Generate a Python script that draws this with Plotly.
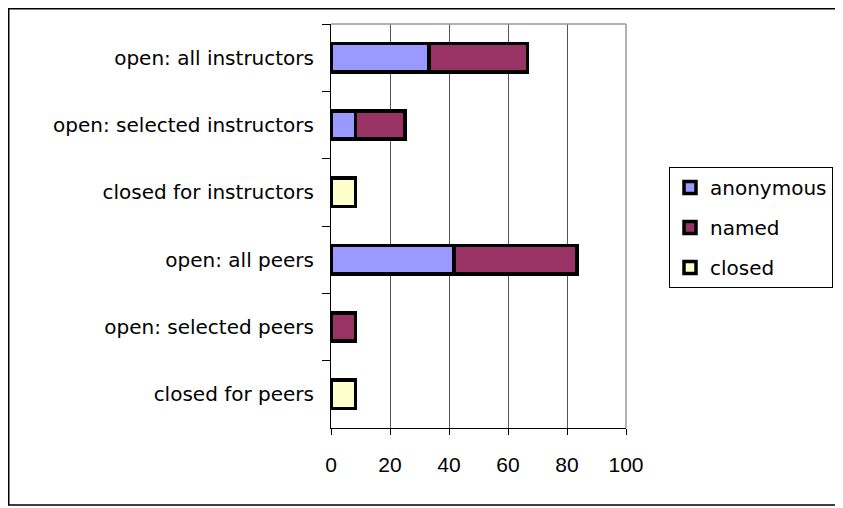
import plotly.graph_objects as go

categories = ["open: all instructors", "open: selected instructors", "closed for instructors",
              "open: all peers", "open: selected peers", "closed for peers"]
anonymous = [33.3, 8.3, 0, 41.7, 0, 0]
named = [33.3, 16.7, 0, 41.7, 8.3, 0]
closed = [0, 0, 8.3, 0, 0, 8.3]
x_ticks = [0, 20, 40, 60, 80, 100]

series = [("anonymous", anonymous, "#9999FF"),
          ("named", named, "#993366"),
          ("closed", closed, "#FFFFCC")]

FONT = "DejaVu Sans, sans-serif"
NUMFONT = "Liberation Sans, Arial, sans-serif"

fig = go.Figure()
for name, vals, color in series:
    fig.add_trace(go.Bar(
        y=categories, x=vals, name=name, orientation="h",
        marker=dict(color=color, line=dict(color="black", width=3.5)),
        legendgroup=name,
    ))

# page body has an 8px margin: target pixel (X, Y) -> figure (X-8, Y-8)
OFF = 8
W, H = 843, 508
L = 331 - OFF
T = 24 - OFF
R = W - (626 - OFF)
B = H - (428 - OFF)
pw, ph = W - L - R, H - T - B

def px(x):
    return (x - OFF - L) / pw

def py(y):
    return (H - B - (y - OFF)) / ph

fig.update_layout(
    width=W, height=H,
    margin=dict(l=L, r=R, t=T, b=B, pad=0),
    paper_bgcolor="white", plot_bgcolor="white",
    barmode="stack", bargap=0.58,
    font=dict(family=FONT, size=20, color="black"),
    showlegend=True,
    legend=dict(
        x=px(669), y=py(167), xanchor="left", yanchor="top",
        bordercolor="black", borderwidth=1,
        font=dict(size=20), traceorder="grouped", tracegroupgap=11,
        itemwidth=30,
    ),
    xaxis=dict(
        range=[0, 100], tickvals=x_ticks, ticktext=[str(v) for v in x_ticks],
        tickfont=dict(family=NUMFONT, size=21),
        showgrid=True, gridcolor="#555555", gridwidth=1,
        showline=True, linecolor="black", linewidth=1,
        ticks="outside", ticklen=6, tickcolor="black",
        ticklabelstandoff=12, zeroline=False,
    ),
    yaxis=dict(
        categoryorder="array", categoryarray=categories, autorange="reversed",
        showline=True, linecolor="black", linewidth=1,
        ticks="outside", ticklen=8, tickcolor="black", tickson="boundaries",
        ticklabelstandoff=12, showgrid=False, zeroline=False,
    ),
    shapes=[
        dict(type="rect", xref="paper", yref="paper",
             x0=px(8.75), x1=px(838), y0=py(505), y1=py(8.75),
             line=dict(color="black", width=1.5), fillcolor="rgba(0,0,0,0)", layer="below"),
        dict(type="line", xref="paper", yref="paper",
             x0=0, x1=1, y0=1, y1=1, line=dict(color="#999999", width=1.5)),
        dict(type="line", xref="paper", yref="paper",
             x0=1, x1=1, y0=0, y1=1, line=dict(color="#999999", width=1.5)),
    ],
)

fig.write_html("out.html")
